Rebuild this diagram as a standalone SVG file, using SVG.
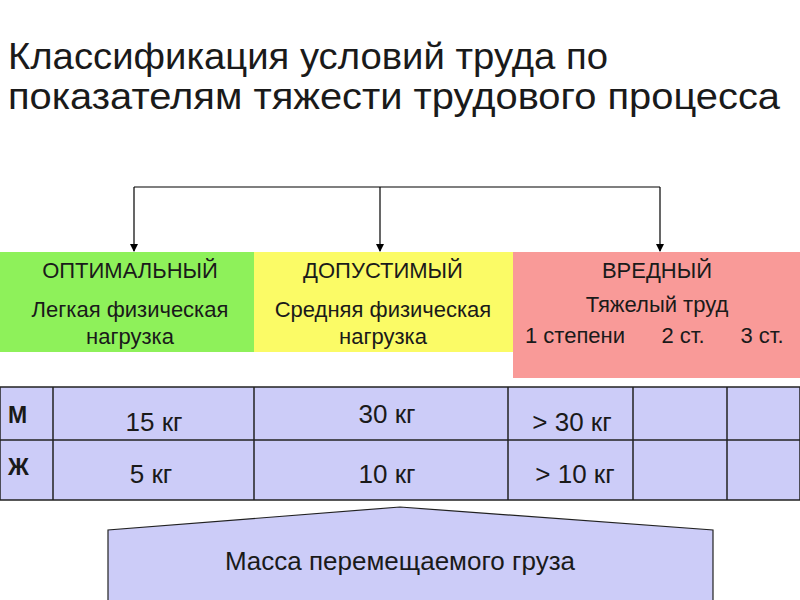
<svg xmlns="http://www.w3.org/2000/svg" width="800" height="600" viewBox="0 0 800 600">
<style>
text{font-family:"Liberation Sans",Arial,sans-serif;fill:#1a1a1a}
.t{font-size:37px}
.h{font-size:22px;text-anchor:middle}
.c{font-size:26px;text-anchor:middle}
.cell{fill:#ccccf8;stroke:#222;stroke-width:1.5}
.con{stroke:#000;stroke-width:1.2;fill:none}
</style>
<defs><marker id="a" markerWidth="8" markerHeight="8" refX="7" refY="4" orient="auto" markerUnits="userSpaceOnUse"><path d="M0,0L8,4L0,8z" fill="#000"/></marker></defs>
<rect width="800" height="600" fill="#fff"/>
<text class="t" x="8" y="69" textLength="600" lengthAdjust="spacingAndGlyphs">Классификация условий труда по</text>
<text class="t" x="8" y="109" textLength="772" lengthAdjust="spacingAndGlyphs">показателям тяжести трудового процесса</text>
<g id="connectors">
<path class="con" d="M134,187H660"/>
<path class="con" d="M134,187V251" marker-end="url(#a)"/>
<path class="con" d="M380,187V251" marker-end="url(#a)"/>
<path class="con" d="M660,187V251" marker-end="url(#a)"/>
</g>
<g id="optimal"><rect x="0" y="252" width="254" height="100" fill="#8ef15a"/>
<text class="h" x="130" y="278">ОПТИМАЛЬНЫЙ</text>
<text class="h" x="130" y="317">Легкая физическая</text>
<text class="h" x="130" y="344">нагрузка</text></g>
<g id="allowed"><rect x="254" y="252" width="259" height="100" fill="#fbfb66"/>
<text class="h" x="383" y="278">ДОПУСТИМЫЙ</text>
<text class="h" x="383" y="317">Средняя физическая</text>
<text class="h" x="383" y="344">нагрузка</text></g>
<g id="harmful"><rect x="513" y="252" width="287" height="126" fill="#f99a98"/>
<text class="h" x="657" y="278">ВРЕДНЫЙ</text>
<text class="h" x="657" y="312">Тяжелый труд</text>
<text class="h" x="575" y="343">1 степени</text>
<text class="h" x="683" y="343">2 ст.</text>
<text class="h" x="762" y="343">3 ст.</text></g>
<g id="table">
<rect class="cell" x="0" y="387" width="800" height="113"/>
<path class="con" d="M0,440H800M53,387V500M254,387V500M508,387V500M633,387V500M727,387V500" style="stroke:#222;stroke-width:1.5"/>
<text x="8" y="423" style="font-size:23px;font-weight:bold">М</text>
<text x="8" y="475" style="font-size:23px;font-weight:bold">Ж</text>
<text class="c" x="154" y="431">15 кг</text>
<text class="c" x="387" y="423">30 кг</text>
<text class="c" x="572" y="431">&gt; 30 кг</text>
<text class="c" x="151" y="483">5 кг</text>
<text class="c" x="387" y="483">10 кг</text>
<text class="c" x="575" y="483">&gt; 10 кг</text>
</g>
<g id="mass"><path d="M108,600V530L400,507L713,530V600" fill="#ccccf8" stroke="#222" stroke-width="1.2"/>
<text class="c" x="400" y="570">Масса перемещаемого груза</text></g>
</svg>
